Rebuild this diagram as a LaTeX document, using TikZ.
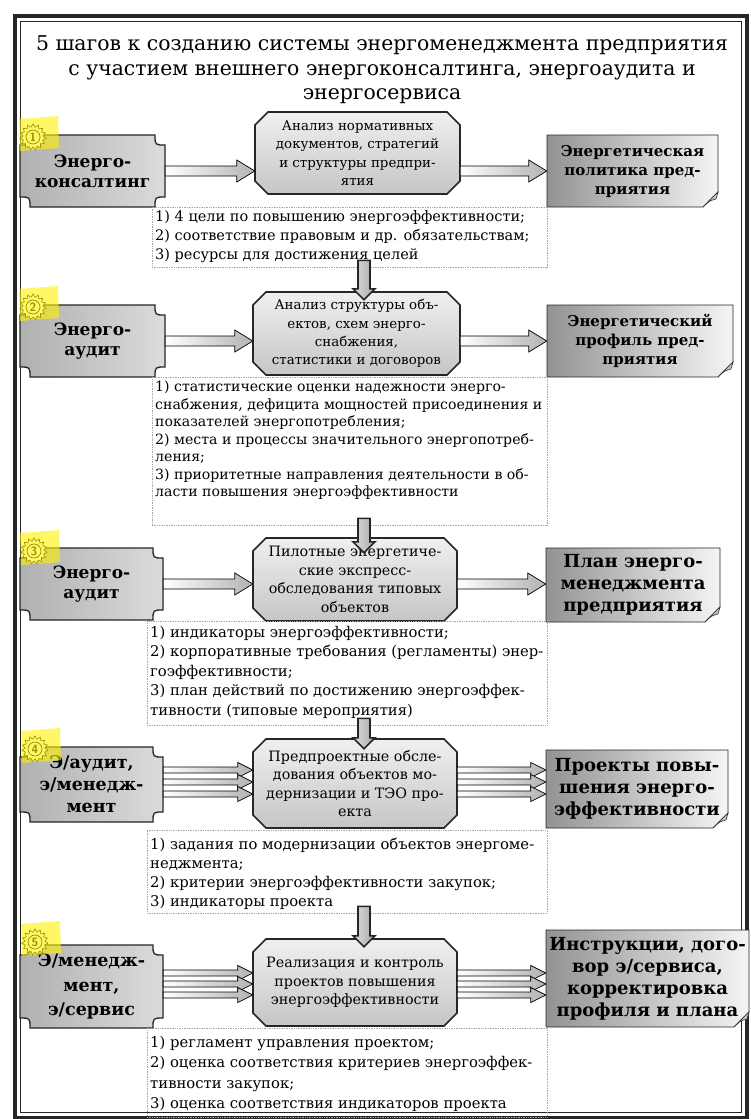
\documentclass[tikz,border=0pt]{standalone}
\usepackage{fontspec}
\setmainfont{DejaVu Serif}
\usetikzlibrary{shapes.geometric,calc}

\newcommand\plaqueshape[5]{\path[#5] ({#1+10},#2) -- ({#3-10},#2) .. controls ({#3-10},{#2+10}) .. (#3,{#2+10}) -- (#3,{#4-10}) .. controls ({#3-10},{#4-10}) .. ({#3-10},#4) -- ({#1+10},#4) .. controls ({#1+10},{#4-10}) .. (#1,{#4-10}) -- (#1,{#2+10}) .. controls ({#1+10},{#2+10}) .. ({#1+10},#2) -- cycle;}
\newcommand\octshape[5]{\path[#5] ({#1+13},#2) -- ({#3-13},#2) -- (#3,{#2+13}) -- (#3,{#4-13}) -- ({#3-13},#4) -- ({#1+13},#4) -- (#1,{#4-13}) -- (#1,{#2+13}) -- cycle;}
\newcommand\foldshape[5]{\path[#5] (#1,#2) -- (#3,#2) -- (#3,{#4-15}) -- ({#3-15},#4) -- (#1,#4) -- cycle;
 \path[draw=black!80, line width=0.6pt, fill=gray!45] (#3,{#4-15}) -- ({#3-15},#4) .. controls ({#3-9},{#4-6}) .. ({#3-2},{#4-8}) -- cycle;}
\newcommand\place[7]{\node[#6, minimum width={(#4-#2)*1pt}, minimum height={(#5-#3)*1pt}] (#1) at ({(#2+#4)/2},{(#3+#5)/2}) {#7};}
\newcommand\harr[3]{\path[harrow] let \p1=(#1.east), \p2=(#2.west), \p3=(0,#3) in ({\x1},{\y3+5pt}) -- ({\x2-18pt},{\y3+5pt}) -- ({\x2-18pt},{\y3+11pt}) -- ({\x2},{\y3}) -- ({\x2-18pt},{\y3-11pt}) -- ({\x2-18pt},{\y3-5pt}) -- ({\x1},{\y3-5pt}) -- cycle;}
\newcommand\harrs[3]{\path[harrow] let \p1=(#1.east), \p2=(#2.west), \p3=(0,#3) in ({\x1},{\y3+3pt}) -- ({\x2-15pt},{\y3+3pt}) -- ({\x2-15pt},{\y3+7.5pt}) -- ({\x2},{\y3}) -- ({\x2-15pt},{\y3-7.5pt}) -- ({\x2-15pt},{\y3-3pt}) -- ({\x1},{\y3-3pt}) -- cycle;}
\newcommand\varr[4]{\path[varrow] let \p1=(#1.south), \p2=(#2.north), \p3=(#3,0) in ({\x3-6pt},{\y1+7pt}) -- ({\x3-6pt},{\y2-#4pt+11pt}) -- ({\x3-11pt},{\y2-#4pt+11pt}) -- ({\x3},{\y2-#4pt}) -- ({\x3+11pt},{\y2-#4pt+11pt}) -- ({\x3+6pt},{\y2-#4pt+11pt}) -- ({\x3+6pt},{\y1+7pt}) -- cycle;}
\newcommand\badge[4]{%
 \node[star, star points=15, star point ratio=1.3, minimum size=26pt, inner sep=0pt, draw=black, line width=0.6pt, fill=white] (#1) at (#2,#3) {};
 \node[circle, draw=black, line width=0.7pt, inner sep=0pt, minimum size=14pt, font=\sffamily\bfseries\fontsize{12}{12}\selectfont] (#1n) at (#1) {#4};}
\newcommand\yhl[2]{\fill[yellow, opacity=0.6] ({#1-14},{#2-18}) -- ({#1+25},{#2-21}) -- ({#1+26},{#2+11}) -- ({#1-13},{#2+14}) -- cycle;}

\tikzset{
 lshape/.style={draw=black!85, line width=1.3pt, left color=gray!62, right color=gray!28},
 cshape/.style={draw=black!85, line width=1.6pt, top color=gray!12, bottom color=gray!45},
 rshape/.style={draw=black!85, line width=0.8pt, left color=gray!85, right color=gray!8},
 dshape/.style={draw=gray!70, densely dotted, line width=0.7pt},
 harrow/.style={draw=black, line width=0.7pt, left color=white, right color=gray!60},
 varrow/.style={draw=black!85, line width=1.6pt, left color=gray!25, right color=gray!70},
 ltextA/.style={inner sep=0pt, align=center, font=\bfseries\fontsize{17}{20}\selectfont},
 ltextB/.style={inner sep=0pt, align=center, font=\bfseries\fontsize{17.5}{22}\selectfont},
 ltextC/.style={inner sep=0pt, align=center, font=\bfseries\fontsize{17.5}{24.5}\selectfont},
 ctextA/.style={inner sep=0pt, align=center, font=\fontsize{13.4}{18.3}\selectfont},
 ctextB/.style={inner sep=0pt, align=center, font=\fontsize{14.3}{18.5}\selectfont},
 rtextA/.style={inner sep=0pt, align=center, font=\bfseries\fontsize{15}{19}\selectfont},
 rtextB/.style={inner sep=0pt, align=center, font=\bfseries\fontsize{18}{22}\selectfont},
 dtext/.style 2 args={inner sep=0pt, align=left, anchor=north west, font=\fontsize{#1}{#2}\selectfont},
}

\begin{document}
\begin{tikzpicture}[x=1pt,y=-1pt]
\useasboundingbox (0,0) rectangle (751,1119);
\fill[white] (0,0) rectangle (751,1119);
% frame
\draw[line width=3.5pt, black!85] (15,16) rectangle (747,1118);
\draw[line width=1pt, black!85] (20.5,21.5) rectangle (741.5,1112.5);
% title
\node[align=center, inner sep=0pt, font=\fontsize{20.4}{24.5}\selectfont] (T) at (382,70) {5 шагов к созданию системы энергоменеджмента предприятия\\с участием внешнего энергоконсалтинга, энергоаудита и\\энергосервиса};

% ---------- row 1
\plaqueshape{20}{135}{165}{207}{lshape}
\place{L1}{20}{135}{165}{207}{ltextA}{Энерго-\\консалтинг}
\octshape{255}{112}{460}{194}{cshape}
\place{C1}{255}{112}{460}{194}{ctextA}{Анализ нормативных\\документов, стратегий\\и структуры предпри-\\ятия}
\foldshape{547}{135}{718}{207}{rshape}
\place{R1}{547}{135}{718}{207}{rtextA}{Энергетическая\\политика пред-\\приятия}
\place{D1}{152}{207}{547}{267}{dshape}{}
\node[dtext={14.5}{19}] (D1t) at (155,210) {1) 4 цели по повышению энергоэффективности;\\2) соответствие правовым и др. обязательствам;\\3) ресурсы для достижения целей};
\harr{L1}{C1}{171}
\harr{C1}{R1}{171}

% ---------- row 2
\plaqueshape{20}{305}{165}{377}{lshape}
\place{L2}{20}{305}{165}{377}{ltextA}{Энерго-\\аудит}
\octshape{253}{292}{460}{375}{cshape}
\place{C2}{253}{292}{460}{375}{ctextA}{Анализ структуры объ-\\ектов, схем энерго-\\снабжения,\\статистики и договоров}
\foldshape{547}{305}{733}{377}{rshape}
\place{R2}{547}{305}{733}{377}{rtextA}{Энергетический\\профиль пред-\\приятия}
\place{D2}{152}{377}{547}{525}{dshape}{}
\node[dtext={14.1}{17.5}] (D2t) at (155,381) {1) статистические оценки надежности энерго-\\снабжения, дефицита мощностей присоединения и\\показателей энергопотребления;\\2) места и процессы значительного энергопотреб-\\ления;\\3) приоритетные направления деятельности в об-\\ласти повышения энергоэффективности};
\harr{L2}{C2}{341}
\harr{C2}{R2}{341}
\varr{D1}{C2}{364}{8}

% ---------- row 3
\plaqueshape{20}{548}{163}{620}{lshape}
\place{L3}{20}{548}{163}{620}{ltextA}{Энерго-\\аудит}
\octshape{253}{538}{457}{621}{cshape}
\place{C3}{253}{538}{457}{621}{ctextB}{Пилотные энергетиче-\\ские экспресс-\\обследования типовых\\объектов}
\foldshape{546}{548}{720}{622}{rshape}
\place{R3}{546}{548}{720}{622}{rtextB}{План энерго-\\менеджмента\\предприятия}
\place{D3}{147}{621}{547}{725}{dshape}{}
\node[dtext={14.8}{19.5}] (D3t) at (150,626) {1) индикаторы энергоэффективности;\\2) корпоративные требования (регламенты) энер-\\гоэффективности;\\3) план действий по достижению энергоэффек-\\тивности (типовые мероприятия)};
\harr{L3}{C3}{584}
\harr{C3}{R3}{584}
\varr{D2}{C3}{364}{15}

% ---------- row 4
\plaqueshape{20}{747}{163}{822}{lshape}
\place{L4}{20}{747}{163}{822}{ltextB}{Э/аудит,\\э/менедж-\\мент}
\octshape{253}{739}{457}{828}{cshape}
\place{C4}{253}{739}{457}{828}{ctextB}{Предпроектные обсле-\\дования объектов мо-\\дернизации и ТЭО про-\\екта}
\foldshape{546}{750}{728}{828}{rshape}
\place{R4}{546}{750}{728}{828}{rtextB}{Проекты повы-\\шения энерго-\\эффективности}
\place{D4}{147}{830}{547}{913}{dshape}{}
\node[dtext={14.8}{19}] (D4t) at (150,838) {1) задания по модернизации объектов энергоме-\\неджмента;\\2) критерии энергоэффективности закупок;\\3) индикаторы проекта};
\harrs{L4}{C4}{770}
\harrs{L4}{C4}{782}
\harrs{L4}{C4}{794}
\harrs{C4}{R4}{770}
\harrs{C4}{R4}{782}
\harrs{C4}{R4}{794}
\varr{D3}{C4}{364}{10}

% ---------- row 5
\plaqueshape{20}{945}{163}{1028}{lshape}
\place{L5}{20}{945}{163}{1028}{ltextC}{Э/менедж-\\мент,\\э/сервис}
\octshape{253}{939}{457}{1026}{cshape}
\place{C5}{253}{939}{457}{1026}{ctextB}{Реализация и контроль\\проектов повышения\\энергоэффективности}
\foldshape{546}{930}{749}{1027}{rshape}
\place{R5}{546}{930}{749}{1027}{rtextB}{Инструкции, дого-\\вор э/сервиса,\\корректировка\\профиля и плана}
\place{D5}{147}{1028}{547}{1117}{dshape}{}
\node[dtext={14.8}{20.5}] (D5t) at (150,1036) {1) регламент управления проектом;\\2) оценка соответствия критериев энергоэффек-\\тивности закупок;\\3) оценка соответствия индикаторов проекта};
\harrs{L5}{C5}{973}
\harrs{L5}{C5}{984}
\harrs{L5}{C5}{995}
\harrs{C5}{R5}{973}
\harrs{C5}{R5}{984}
\harrs{C5}{R5}{995}
\varr{D4}{C5}{364}{8}

% badges
\badge{B1}{33}{137}{1}
\badge{B2}{33}{307}{2}
\badge{B3}{34}{551}{3}
\badge{B4}{35}{749}{4}
\badge{B5}{35}{942}{5}
\yhl{33}{137}
\yhl{33}{307}
\yhl{34}{551}
\yhl{35}{749}
\yhl{35}{942}
\end{tikzpicture}
\end{document}
